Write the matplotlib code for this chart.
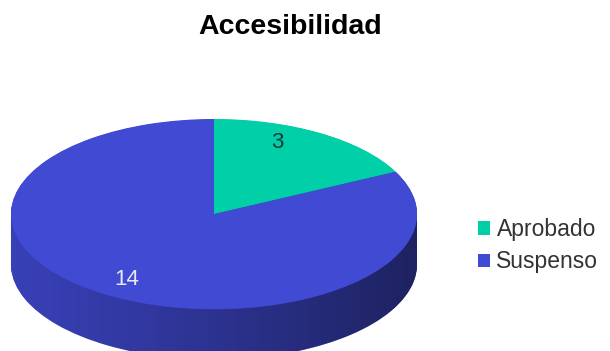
import numpy as np
import matplotlib.pyplot as plt
from matplotlib.patches import Patch
from matplotlib.path import Path
from matplotlib.patches import PathPatch

# datos
categorias = ['Aprobado', 'Suspenso']
valores = [3, 14]
colores = ['#00cfa8', '#404ad2']
colores_lado = ['#00977b', '#3a42bc']
titulo = 'Accesibilidad'

plt.rcParams['font.family'] = ['Liberation Sans', 'DejaVu Sans']

fig = plt.figure(figsize=(6.1, 3.51), dpi=100)
ax = fig.add_axes([11 / 610, 0, 406 / 610, (351 - 114.25) / 351])

profundidad = 0.53
# lateral: pies apilados hacia abajo
for d in np.linspace(profundidad, 0.005, 60):
    ax.pie(valores, colors=colores_lado, startangle=90, counterclock=False,
           center=(0, -d), radius=1, wedgeprops=dict(linewidth=0))

# sombreado horizontal del lateral (mas oscuro a la derecha)
t = np.linspace(np.pi, 2 * np.pi, 200)
xs = np.cos(t)
ys = np.sin(t)
verts = list(zip(xs, ys)) + list(zip(xs[::-1], ys[::-1] - profundidad))
lado = PathPatch(Path(verts + [verts[0]], closed=True), facecolor='none', edgecolor='none')
ax.add_patch(lado)
alfa = np.linspace(0.05, 0.55, 256) ** 1.2
grad = np.zeros((1, 256, 4))
grad[..., 3] = alfa
img = ax.imshow(grad, extent=(-1, 1, -1 - profundidad, 0.2), aspect='auto', zorder=5)
img.set_clip_path(lado)

# cara superior
wedges, textos, autotextos = ax.pie(
    valores, colors=colores, startangle=90, counterclock=False, radius=1,
    autopct=lambda p: '%d' % round(p * sum(valores) / 100),
    wedgeprops=dict(linewidth=0), textprops=dict(fontsize=16))
for w in wedges:
    w.set_zorder(10)
autotextos[0].set_position((0.31, 0.75))
autotextos[0].set_color('#163a34')
autotextos[1].set_position((-0.43, -0.69))
autotextos[1].set_color('#e8e8f4')
for tx in autotextos:
    tx.set_zorder(12)

ax.set_aspect('auto')
ax.set_xlim(-1, 1)
ax.set_ylim(-1.44, 1.05)
ax.axis('off')

fig.text(0.475, 0.924, titulo, ha='center', va='center', fontsize=20.5, fontweight='bold')

handles = [Patch(facecolor=c, edgecolor='none') for c in colores]
fig.legend(handles, categorias, loc='center left', bbox_to_anchor=(0.75, 0.30),
           frameon=False, fontsize=16.5, handlelength=0.5, handleheight=0.5,
           handletextpad=0.3, labelspacing=0.4, labelcolor='#333333')

fig.savefig('out.png', dpi=100)
